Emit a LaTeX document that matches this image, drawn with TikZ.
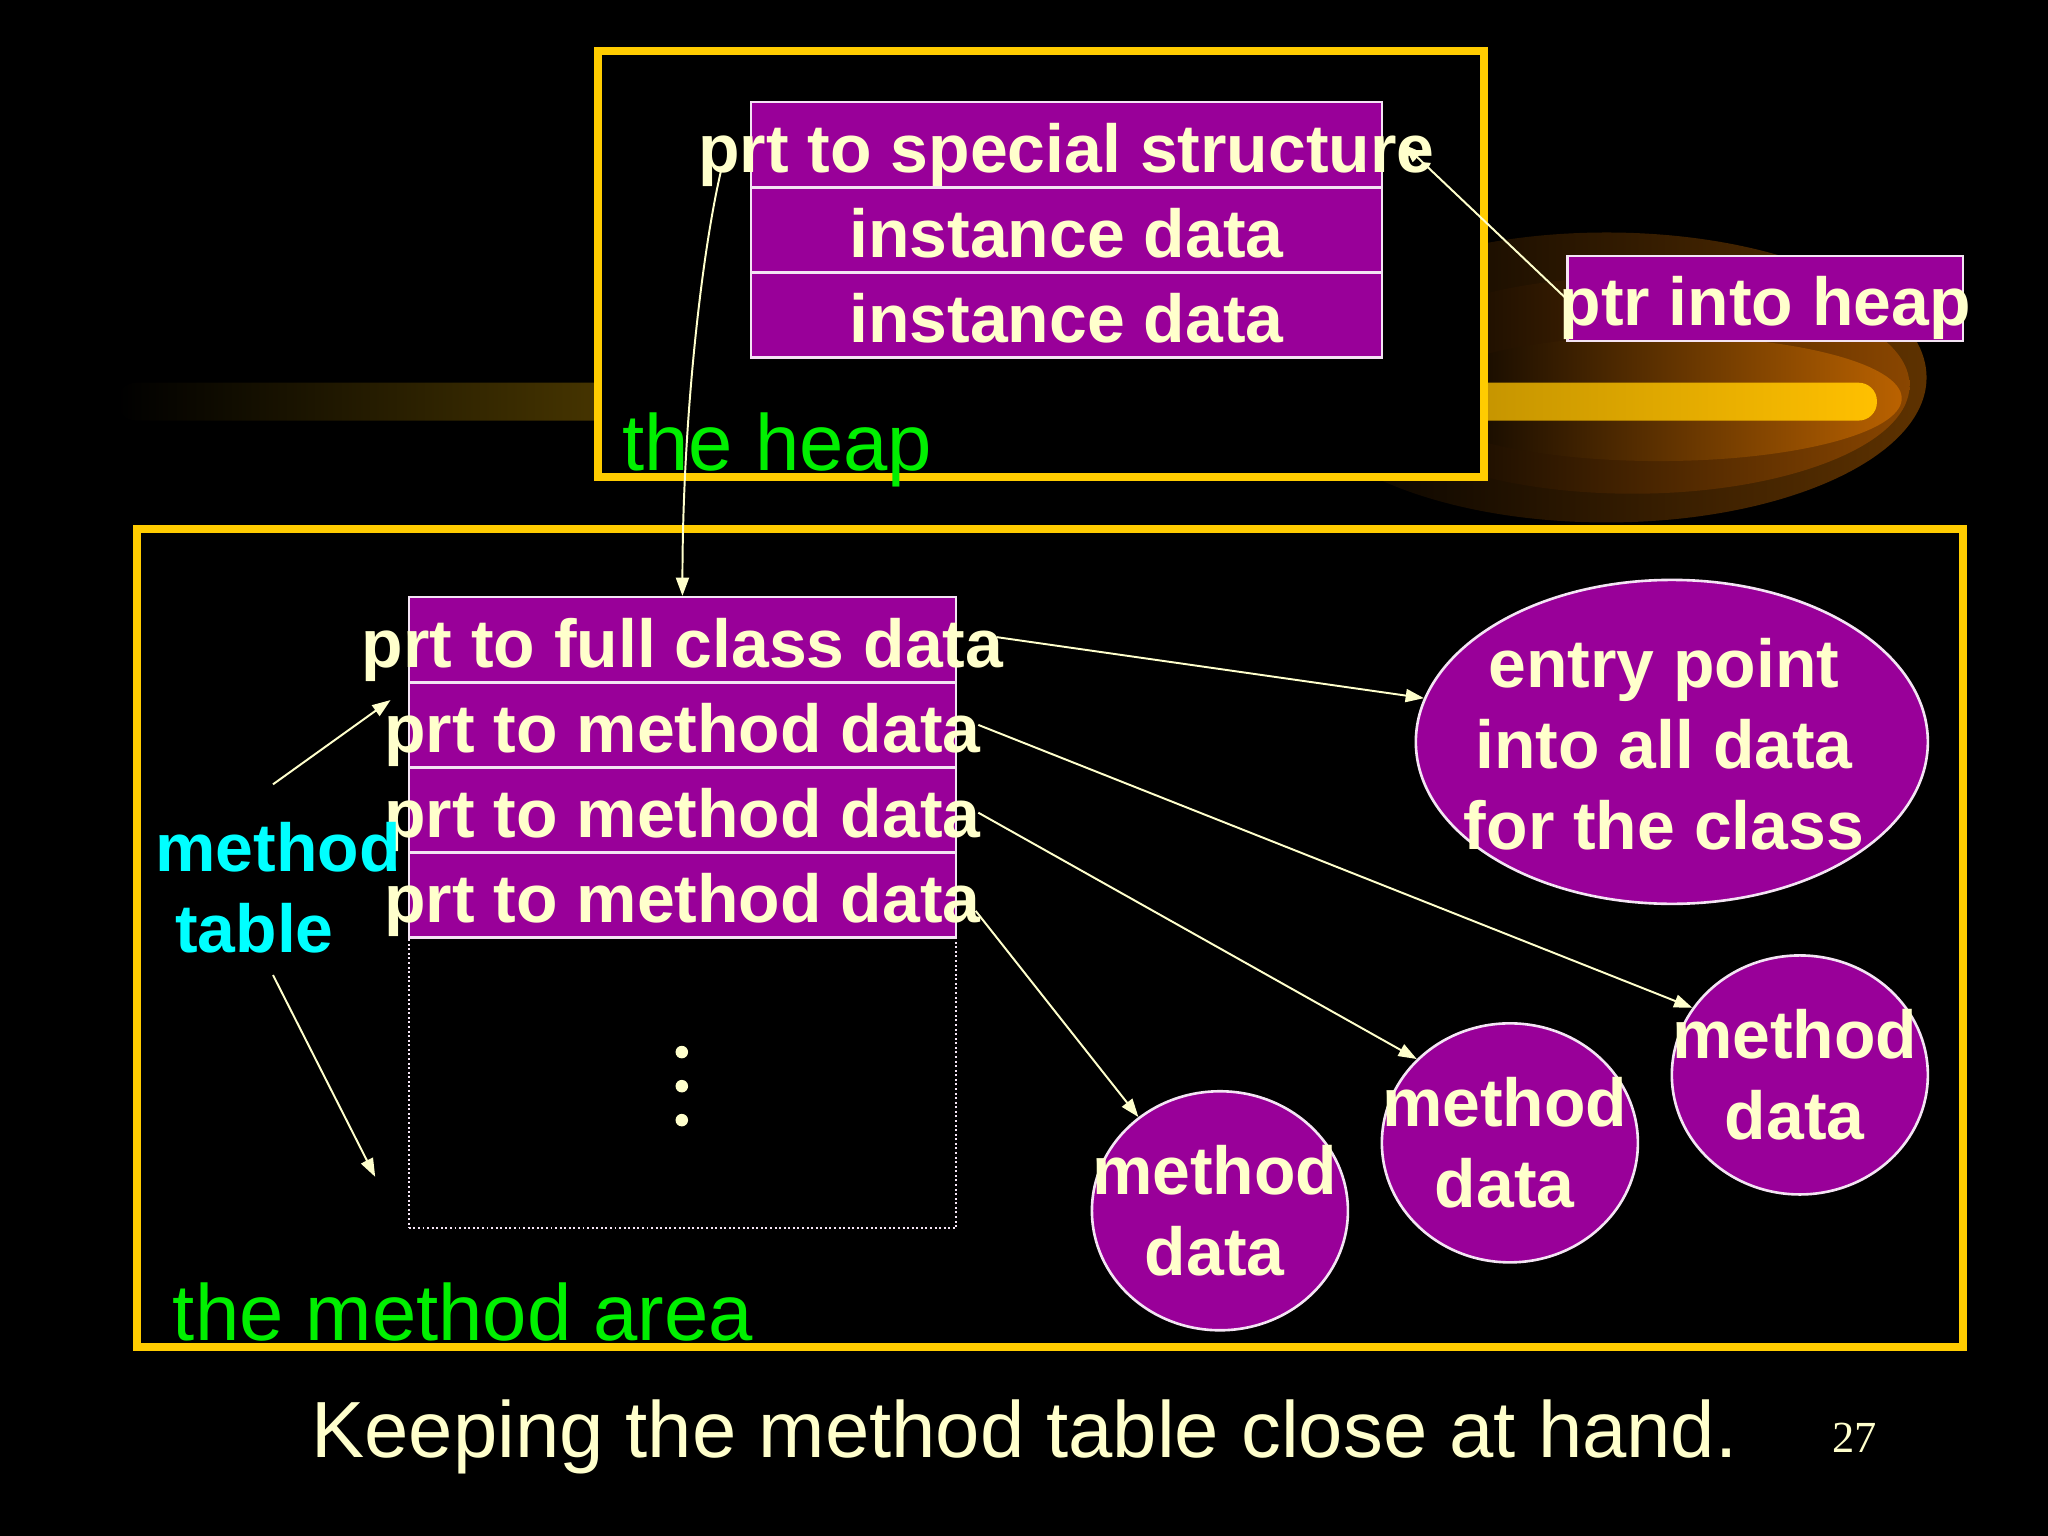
\documentclass[tikz,border=0pt]{standalone}
\usepackage{fontspec}
\setmainfont{Liberation Sans}
\newfontfamily\numfont{Liberation Serif}
\usetikzlibrary{matrix,arrows.meta,shapes.geometric}
\definecolor{frame}{HTML}{FFCC00}
\definecolor{slot}{HTML}{990099}
\definecolor{cream}{HTML}{FFFFCC}
\definecolor{rim}{HTML}{F4E4F4}
\definecolor{leaf}{HTML}{00F000}
\definecolor{aqua}{HTML}{00FFFF}
\definecolor{glowA}{HTML}{5E3200}
\definecolor{glowB}{HTML}{8A4600}
\definecolor{glowC}{HTML}{BA6200}
\definecolor{bar}{HTML}{FFC000}
\newcommand{\spill}[1]{\makebox[0pt]{#1}}

\begin{document}
\begin{tikzpicture}[x=0.5pt, y=-0.5pt,
		bold/.style={text=cream, font=\fontsize{26}{31}\selectfont\bfseries, inner sep=0pt},
		plain/.style={font=\fontsize{30.5}{36}\selectfont, inner sep=0pt},
		cell/.style={bold, draw=rim, fill=slot, line width=1pt, minimum height=32.6pt, text height=23pt, text depth=2pt},
		blob/.style={ellipse, draw=rim, fill=slot, line width=1pt, inner sep=0pt},
		box/.style={draw=frame, fill=black, line width=3pt},
		link/.style={color=cream, line width=0.75pt, -{Triangle[length=7pt,width=5pt]}}]
		\path[use as bounding box] (0,0) rectangle (1568,1176);
		\fill[black] (0,0) rectangle (1568,1176);
		% glow behind the heap
		\shade[left color=black, right color=glowA] (1230,289) ellipse [x radius=122.5pt, y radius=55.5pt];
		\shade[left color=black, right color=glowB] (1250,295) ellipse [x radius=106pt, y radius=41.5pt];
		\shade[left color=black, right color=glowC] (1270,305) ellipse [x radius=93pt, y radius=24pt];
		\shade[left color=black, right color=bar, rounded corners=7pt] (90,293) rectangle (1437,322);
		% the two areas
		\draw[box] (458,39) rectangle (1136,365.5);
		\draw[box] (105,405) rectangle (1503,1031);
		\node[plain, text=leaf, anchor=base west] (heaplbl) at (476,360) {the heap};
		\node[plain, text=leaf, anchor=base west] (arealbl) at (132,1026) {the method area};
		% heap object
		\matrix (heap) [matrix of nodes, inner sep=0pt, row sep=-1pt, nodes={cell, minimum width=241.5pt}] at (816.5,176)
		{
			\spill{prt to special structure} \\
			\spill{instance data} \\
			\spill{instance data} \\
		};
		\node[cell, minimum width=151.5pt] (ptr) at (1351.5,228.5) {\spill{ptr into heap}};
		% method table
		\matrix (mt) [matrix of nodes, inner sep=0pt, row sep=-1pt, nodes={cell, minimum width=209.5pt}] at (522.5,587.6)
		{
			\spill{prt to full class data} \\
			\spill{prt to method data} \\
			\spill{prt to method data} \\
			\spill{prt to method data} \\
		};
		\node[draw=rim, densely dotted, line width=0.75pt, minimum width=209.5pt, minimum height=111pt, inner sep=0pt] (rest) at (522.5,829.5) {};
		\foreach \y in {805.5,831.6,857.6}
			\fill[cream] (522,\y) circle (2.4pt);
		\node[bold, text=aqua, align=left] (mtl) at (213,680) {method\\\hspace*{7.5pt}table};
		% class data
		\node[blob, minimum width=196pt, minimum height=124pt] (entry) at (1280,568) {};
		\node[bold, align=center, yshift=-1pt, xshift=-3pt] (entryt) at (entry) {entry point\\into all data\\for the class};
		\node[blob, minimum width=98pt, minimum height=91.5pt] (md1) at (934,927) {};
		\node[blob, minimum width=98pt, minimum height=91.5pt] (md2) at (1156,875) {};
		\node[blob, minimum width=98pt, minimum height=91.5pt] (md3) at (1378,823) {};
		\node[bold, align=center, xshift=-2pt] (md1t) at (md1) {method\\data};
		\node[bold, align=center, xshift=-2pt] (md2t) at (md2) {method\\data};
		\node[bold, align=center, xshift=-2pt] (md3t) at (md3) {method\\data};
		% pointers
		\draw[link] ([xshift=-11pt,yshift=-10pt]heap-1-1.west) .. controls +(-16,69) and +(0,-127) .. (mt-1-1.north);
		\path[link]
		(ptr.west) edge ([xshift=8pt]heap-1-1.east)
		([xshift=15pt,yshift=1pt]mt-1-1.east) edge (entry.170)
		([xshift=8pt]mt-2-1.east) edge (md3.148)
		([xshift=8pt,yshift=-1pt]mt-3-1.east) edge (md2.138)
		([xshift=7pt,yshift=-6pt]mt-4-1.east) edge (md1.131)
		([shift={(-2pt,14.5pt)}]mtl.north) edge ([shift={(-6.5pt,-7.3pt)}]mt-2-1.north west)
		([shift={(-2pt,-8pt)}]mtl.south) edge ([shift={(-12.5pt,-35.75pt)}]rest.west)
		;
		\node[plain, text=cream, anchor=base west] (caption) at (238,1116) {Keeping the method table close at hand.};
		\node[text=cream, font=\numfont\fontsize{17}{20}\selectfont, anchor=base, inner sep=0pt] (pageno) at (1420,1112) {27};
	\end{tikzpicture}
\end{document}
